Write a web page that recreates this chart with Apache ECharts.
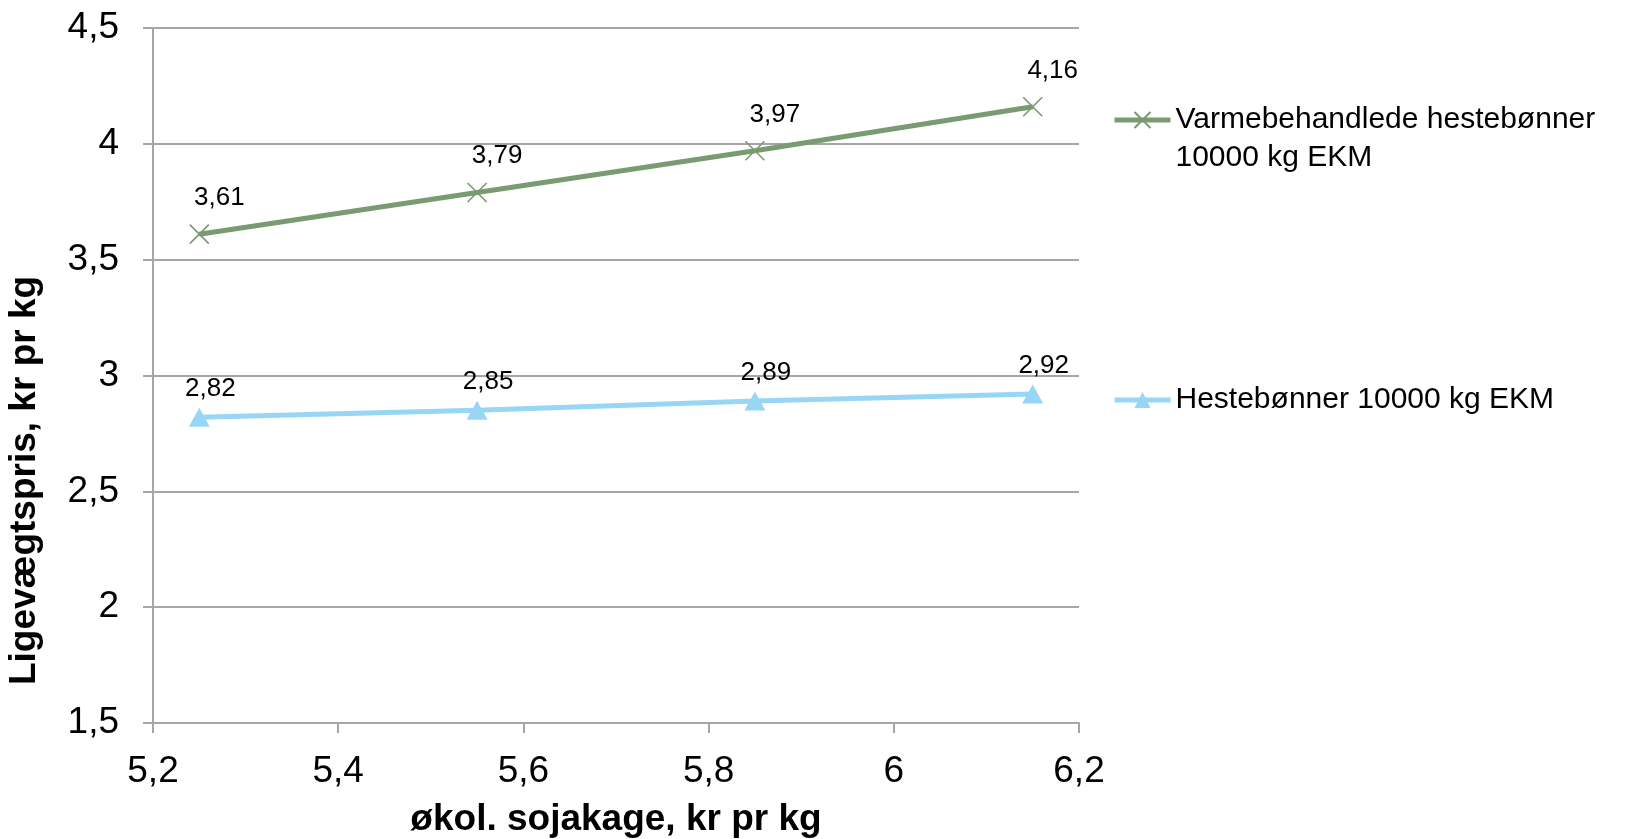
<!DOCTYPE html>
<html>
<head>
<meta charset="utf-8">
<script src="https://cdn.jsdelivr.net/npm/echarts@6/dist/echarts.min.js"></script>
<style>
  html, body { margin: 0; padding: 0; background: #fff; }
  #chart { width: 1636px; height: 839px; }
</style>
</head>
<body>
<div id="chart"></div>
<script>
// pris på økol. sojakage (x) og ligevægtspris (y)
var sojaPris = [5.25, 5.55, 5.85, 6.15]
var varmebehandlede = [3.61, 3.79, 3.97, 4.16]
var hestebonner = [2.82, 2.85, 2.89, 2.92]
var seriesNames = ['Varmebehandlede hestebønner\n10000 kg EKM', 'Hestebønner 10000 kg EKM']

var green = '#7a9a72'
var blue = '#97d6f4'
var gridGray = '#a6a6a6'
var font = 'Liberation Sans, Arial, sans-serif'

function komma(v) {
  return String(+Number(v).toFixed(2)).replace('.', ',')
}
function pairs(xs, ys) {
  return xs.map(function (x, i) { return [x, ys[i]] })
}

var chart = echarts.init(document.getElementById('chart'))
chart.setOption({
  backgroundColor: '#fff',
  animation: false,
  textStyle: { fontFamily: font },
  grid: { left: 153, right: 557, top: 28, bottom: 116, outerBoundsMode: 'none' },
  legend: [{
    data: [seriesNames[0]],
    left: 1107,
    top: 58,
    itemWidth: 56,
    itemHeight: 20,
    lineStyle: { width: 5 },
    // leading blank line keeps the icon level with the first text line
    formatter: function (name) { return '\n' + name },
    textStyle: { fontSize: 30, color: '#000', fontFamily: font, lineHeight: 38 }
  }, {
    data: [seriesNames[1]],
    left: 1107,
    top: 376,
    itemWidth: 56,
    itemHeight: 20,
    lineStyle: { width: 5 },
    textStyle: { fontSize: 30, color: '#000', fontFamily: font, lineHeight: 38 }
  }],
  xAxis: {
    type: 'value',
    min: 5.2,
    max: 6.2,
    interval: 0.2,
    name: 'økol. sojakage, kr pr kg',
    nameLocation: 'middle',
    nameGap: 78,
    nameTextStyle: { fontSize: 37, fontWeight: 'bold', color: '#000', fontFamily: font },
    axisLine: { lineStyle: { color: gridGray, width: 2 } },
    axisTick: { show: true, length: 10, lineStyle: { color: gridGray, width: 2 } },
    axisLabel: { fontSize: 37, color: '#000', margin: 30, formatter: komma },
    splitLine: { show: false }
  },
  yAxis: {
    type: 'value',
    min: 1.5,
    max: 4.5,
    interval: 0.5,
    name: 'Ligevægtspris, kr pr kg',
    nameLocation: 'middle',
    nameGap: 110,
    nameTextStyle: { fontSize: 37, fontWeight: 'bold', color: '#000', fontFamily: font, padding: [0, 210, 0, 0] },
    axisLine: { show: true, lineStyle: { color: gridGray, width: 2 } },
    axisTick: { show: true, length: 10, lineStyle: { color: gridGray, width: 2 } },
    axisLabel: { fontSize: 37, color: '#000', margin: 34, formatter: komma },
    splitLine: { show: true, lineStyle: { color: gridGray, width: 2 } }
  },
  series: [{
    name: seriesNames[0],
    type: 'line',
    data: pairs(sojaPris, varmebehandlede),
    symbol: 'path://M0,0L10,10M10,0L0,10',
    symbolSize: 19,
    lineStyle: { color: green, width: 5 },
    itemStyle: { color: green, borderColor: green, borderWidth: 1.6 },
    label: {
      show: true,
      position: 'top',
      offset: [20, -8],
      fontSize: 26,
      color: '#000',
      formatter: function (p) { return komma(p.value[1]) }
    }
  }, {
    name: seriesNames[1],
    type: 'line',
    data: pairs(sojaPris, hestebonner),
    symbol: 'triangle',
    symbolSize: [21, 19],
    lineStyle: { color: blue, width: 5 },
    itemStyle: { color: blue },
    label: {
      show: true,
      position: 'top',
      offset: [11, -1],
      fontSize: 26,
      color: '#000',
      formatter: function (p) { return komma(p.value[1]) }
    }
  }]
})
</script>
</body>
</html>
